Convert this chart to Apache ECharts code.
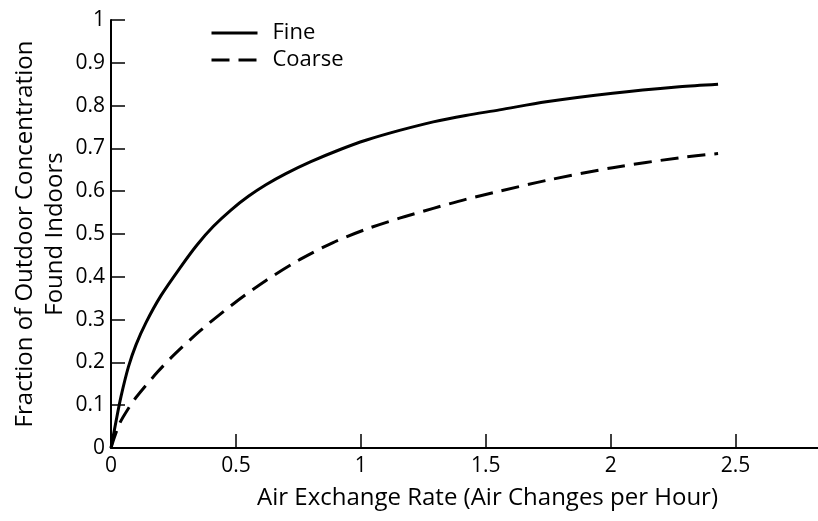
<!DOCTYPE html>
<html>
<head>
<meta charset="utf-8">
<script src="https://cdn.jsdelivr.net/npm/echarts@6/dist/echarts.min.js"></script>
<style>
html,body{margin:0;padding:0;background:#fff;}
#chart{width:818px;height:521px;}
</style>
</head>
<body>
<div id="chart"></div>
<script>
// Data
var seriesNames = ['Fine', 'Coarse'];
var fineX = [0, 0.02, 0.04, 0.07, 0.10, 0.14, 0.20, 0.28, 0.345, 0.41, 0.48, 0.55, 0.62, 0.70, 0.80, 0.92, 1.02, 1.155, 1.29, 1.42, 1.555, 1.742, 2.008, 2.275, 2.43];
var fineY = [0, 0.062, 0.12, 0.19, 0.241, 0.293, 0.356, 0.424, 0.475, 0.518, 0.556, 0.588, 0.615, 0.641, 0.669, 0.698, 0.719, 0.742, 0.762, 0.777, 0.79, 0.809, 0.829, 0.844, 0.85];
var coarseX = [0, 0.013, 0.035, 0.067, 0.10, 0.187, 0.253, 0.355, 0.488, 0.622, 0.755, 0.889, 1.02, 1.155, 1.29, 1.42, 1.555, 1.742, 2.008, 2.275, 2.43];
var coarseY = [0, 0.024, 0.058, 0.09, 0.118, 0.178, 0.218, 0.273, 0.336, 0.392, 0.44, 0.48, 0.511, 0.537, 0.56, 0.581, 0.60, 0.625, 0.655, 0.678, 0.688];
var xTicks = [0, 0.5, 1, 1.5, 2, 2.5];
var xTitle = 'Air Exchange Rate (Air Changes per Hour)';
var yTitle = 'Fraction of Outdoor Concentration\nFound Indoors';

function pairs(xs, ys) { return xs.map(function (x, i) { return [x, ys[i]]; }); }

var FONT = 'Open Sans';
var chart = echarts.init(document.getElementById('chart'), null, {renderer: 'canvas'});
chart.setOption({
  backgroundColor: '#fff',
  animation: false,
  textStyle: {fontFamily: FONT, color: '#000'},
  grid: {left: 111, right: 0, top: 20, bottom: 73, containLabel: false, outerBoundsMode: 'none'},
  legend: {
    data: seriesNames,
    orient: 'vertical',
    left: 205,
    top: 17,
    itemWidth: 46,
    itemHeight: 14,
    itemGap: 5,
    itemStyle: {opacity: 0},
    lineStyle: {width: 3, color: '#000'},
    textStyle: {fontFamily: FONT, fontSize: 22, lineHeight: 20, color: '#000', padding: [0, 0, 0, 10]}
  },
  xAxis: {
    type: 'value',
    min: 0,
    max: 2.83,
    interval: 0.5,
    name: xTitle,
    nameLocation: 'middle',
    nameGap: 38,
    nameMoveOverlap: false,
    nameTextStyle: {fontFamily: FONT, fontSize: 24, color: '#000', padding: [0, 0, 0, 46]},
    axisLine: {show: true, onZero: false, lineStyle: {color: '#000', width: 2}},
    axisTick: {show: true, inside: true, length: 14, customValues: xTicks, lineStyle: {color: '#000', width: 1.5}},
    axisLabel: {customValues: xTicks, fontFamily: FONT, fontSize: 21, color: '#000', margin: 8},
    splitLine: {show: false}
  },
  yAxis: {
    type: 'value',
    min: 0,
    max: 1,
    interval: 0.1,
    name: yTitle,
    nameLocation: 'middle',
    nameRotate: 90,
    nameGap: 41,
    nameMoveOverlap: false,
    nameTextStyle: {fontFamily: FONT, fontSize: 24, color: '#000', lineHeight: 30, align: 'center'},
    axisLine: {show: true, onZero: false, lineStyle: {color: '#000', width: 2}},
    axisTick: {show: true, inside: true, length: 14, lineStyle: {color: '#000', width: 1.5}},
    axisLabel: {fontFamily: FONT, fontSize: 21, color: '#000', margin: 6},
    splitLine: {show: false}
  },
  series: [
    {
      name: seriesNames[0],
      type: 'line',
      data: pairs(fineX, fineY),
      smooth: 0.3,
      symbol: 'none',
      itemStyle: {color: '#000'},
      lineStyle: {color: '#000', width: 3}
    },
    {
      name: seriesNames[1],
      type: 'line',
      data: pairs(coarseX, coarseY),
      smooth: 0.3,
      symbol: 'none',
      itemStyle: {color: '#000'},
      lineStyle: {color: '#000', width: 3, type: [18, 9]}
    }
  ]
});
</script>
</body>
</html>
